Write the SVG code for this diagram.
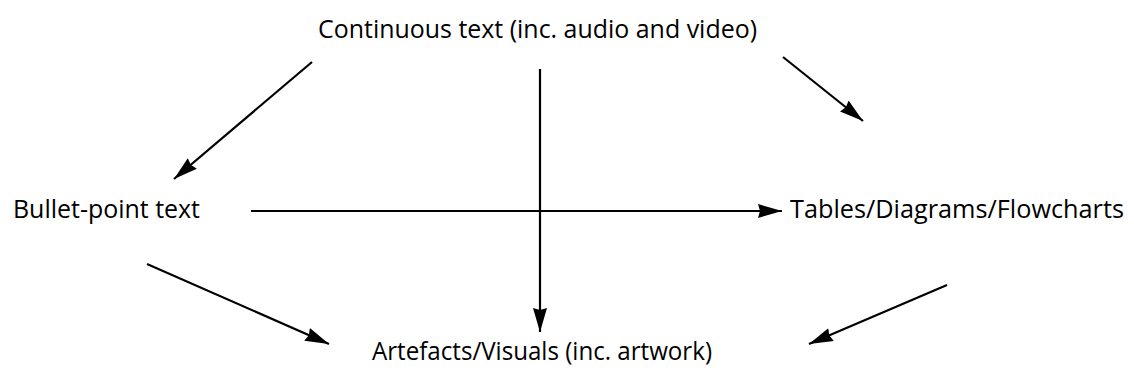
<svg xmlns="http://www.w3.org/2000/svg" width="1134" height="381" viewBox="0 0 1134 381">
<defs>
<style>
.t{font-family:"Open Sans","Liberation Sans",sans-serif;font-size:25px;fill:#000}
.c{stroke:#000;stroke-width:2.2;fill:none;marker-end:url(#ah)}
</style>
<marker id="ah" viewBox="0 0 24 14" refX="24" refY="7" markerWidth="24" markerHeight="14" markerUnits="userSpaceOnUse" orient="auto">
<path d="M0,0 L24,7 L0,14 L2,7 Z" fill="#000"/>
</marker>
</defs>
<rect width="1134" height="381" fill="#fff"/>
<g id="connectors">
<line class="c" x1="312" y1="62" x2="174" y2="179"/>
<line class="c" x1="540" y1="69" x2="540" y2="332"/>
<line class="c" x1="783" y1="57" x2="863" y2="121"/>
<line class="c" x1="251" y1="211" x2="782" y2="211"/>
<line class="c" x1="147" y1="264" x2="329" y2="344"/>
<line class="c" x1="947" y1="285" x2="809" y2="344"/>
</g>
<g id="continuous"><text class="t" x="318" y="38" textLength="439" lengthAdjust="spacingAndGlyphs">Continuous text (inc. audio and video)</text></g>
<g id="bullet"><text class="t" x="13" y="218" textLength="187" lengthAdjust="spacingAndGlyphs">Bullet-point text</text></g>
<g id="tables"><text class="t" x="790" y="218" textLength="334" lengthAdjust="spacingAndGlyphs">Tables/Diagrams/Flowcharts</text></g>
<g id="artefacts"><text class="t" x="372" y="360" textLength="340" lengthAdjust="spacingAndGlyphs">Artefacts/Visuals (inc. artwork)</text></g>
</svg>
